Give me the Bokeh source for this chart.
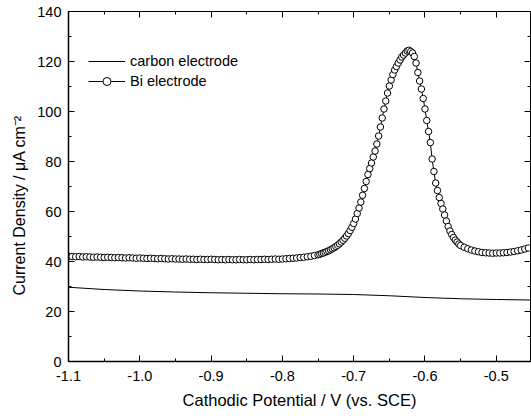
from bokeh.plotting import figure
from bokeh.models import (LinearAxis, SingleIntervalTicker, PrintfTickFormatter,
                          CustomJSTickFormatter, Range1d, Title)
from bokeh.embed import file_html
from bokeh.resources import INLINE

# ---------------- data ----------------
carbon_x = [-1.100, -1.050, -1.000, -0.950, -0.900, -0.850, -0.800, -0.750,
            -0.700, -0.650, -0.600, -0.550, -0.500, -0.452]
carbon_y = [29.7, 28.8, 28.2, 27.8, 27.5, 27.3, 27.1, 27.0,
            26.8, 26.3, 25.6, 25.1, 24.8, 24.6]

bi_x_left = [
    -1.100, -1.095, -1.090, -1.085, -1.080, -1.075, -1.070, -1.065, -1.060, -1.055,
    -1.050, -1.045, -1.040, -1.035, -1.030, -1.025, -1.020, -1.015, -1.010, -1.005,
    -1.000, -0.995, -0.990, -0.985, -0.980, -0.975, -0.970, -0.965, -0.960, -0.955,
    -0.950, -0.945, -0.940, -0.935, -0.930, -0.925, -0.920, -0.915, -0.910, -0.905,
    -0.900, -0.895, -0.890, -0.885, -0.880, -0.875, -0.870, -0.865, -0.860, -0.855,
    -0.850, -0.845, -0.840, -0.835, -0.830, -0.825, -0.820, -0.815, -0.810, -0.805,
    -0.800, -0.795, -0.790, -0.785, -0.780, -0.775, -0.770, -0.765, -0.760, -0.755]
bi_y_left = [
    42.1, 42.0, 41.9, 42.0, 41.8, 41.9, 41.8, 41.7, 41.8, 41.7,
    41.6, 41.7, 41.6, 41.5, 41.6, 41.5, 41.4, 41.5, 41.4, 41.3,
    41.4, 41.3, 41.2, 41.3, 41.2, 41.1, 41.2, 41.1, 41.0, 41.1,
    41.0, 41.0, 40.9, 41.0, 40.9, 40.9, 40.8, 40.9, 40.8, 40.8,
    40.9, 40.8, 40.7, 40.8, 40.7, 40.8, 40.7, 40.7, 40.8, 40.7,
    40.7, 40.8, 40.7, 40.8, 40.8, 40.9, 40.8, 40.9, 41.0, 40.9,
    41.0, 41.1, 41.2, 41.3, 41.4, 41.6, 41.7, 41.9, 42.1, 42.4]

bi_x_peak = [
    -0.7500, -0.7475, -0.7450, -0.7425, -0.7400, -0.7375, -0.7350, -0.7325, -0.7300, -0.7275,
    -0.7250, -0.7225, -0.7200, -0.7175, -0.7150, -0.7125, -0.7100, -0.7075, -0.7050, -0.7025,
    -0.7000, -0.6975, -0.6950, -0.6925, -0.6900, -0.6875, -0.6850, -0.6825, -0.6800, -0.6775,
    -0.6750, -0.6725, -0.6700, -0.6675, -0.6650, -0.6625, -0.6600, -0.6575, -0.6550, -0.6525,
    -0.6500, -0.6475, -0.6450, -0.6425, -0.6400, -0.6375, -0.6350, -0.6325, -0.6300, -0.6275,
    -0.6250, -0.6225, -0.6200, -0.6175, -0.6150, -0.6125, -0.6100, -0.6075, -0.6050, -0.6025,
    -0.6000, -0.5975, -0.5950, -0.5925, -0.5900, -0.5875, -0.5850, -0.5825, -0.5800, -0.5775,
    -0.5750, -0.5725, -0.5700, -0.5675, -0.5650, -0.5625, -0.5600, -0.5575, -0.5550, -0.5525]
bi_y_peak = [
    42.7, 42.9, 43.2, 43.4, 43.7, 44.0, 44.3, 44.7, 45.1, 45.5,
    46.0, 46.5, 47.1, 47.8, 48.5, 49.3, 50.2, 51.2, 52.4, 53.7,
    55.2, 57.0, 59.2, 61.4, 63.8, 66.5, 69.2, 72.0, 74.8, 77.2,
    79.4, 81.8, 84.2, 87.0, 90.2, 93.8, 97.4, 101.0, 104.2, 107.4,
    110.2, 112.6, 114.8, 116.6, 118.0, 119.4, 120.6, 121.8, 122.6, 123.4,
    124.2, 124.5, 124.0, 123.4, 122.0, 119.4, 115.6, 112.2, 109.0, 105.2,
    101.0, 96.4, 92.0, 87.6, 81.0, 76.0, 71.4, 68.4, 65.6, 63.2,
    61.0, 58.6, 56.2, 54.0, 52.2, 50.8, 49.6, 48.6, 47.8, 47.0]

bi_x_right = [
    -0.550, -0.545, -0.540, -0.535, -0.530, -0.525, -0.520, -0.515, -0.510, -0.505,
    -0.500, -0.495, -0.490, -0.485, -0.480, -0.475, -0.470, -0.465, -0.460, -0.455]
bi_y_right = [
    46.4, 45.7, 45.1, 44.6, 44.2, 43.9, 43.6, 43.5, 43.4, 43.3,
    43.4, 43.4, 43.5, 43.6, 43.8, 44.0, 44.3, 44.6, 45.0, 45.4]

bi_x = bi_x_left + bi_x_peak + bi_x_right
bi_y = bi_y_left + bi_y_peak + bi_y_right

x_title = "Cathodic Potential / V (vs. SCE)"
y_title = "Current Density / \u03bcA cm\u207b\u00b2"
carbon_label = "carbon electrode"
bi_label = "Bi electrode"

# ---------------- figure ----------------
FONT = "Liberation Sans"

p = figure(width=531, height=416, output_backend="svg", toolbar_location=None,
           x_range=Range1d(-1.1, -0.452), y_range=Range1d(0, 140),
           min_border_left=68, min_border_right=1, min_border_top=11,
           min_border_bottom=55, x_axis_label=x_title)
p.background_fill_color = "white"
p.border_fill_color = "white"
p.outline_line_color = "black"
p.outline_line_width = 1
p.xgrid.visible = False
p.ygrid.visible = False

p.xaxis.ticker = SingleIntervalTicker(interval=0.1, num_minor_ticks=2)
p.yaxis.ticker = SingleIntervalTicker(interval=20, num_minor_ticks=2)
p.xaxis.formatter = PrintfTickFormatter(format="%.1f")
p.yaxis.formatter = PrintfTickFormatter(format="%d")

for ax in (p.xaxis[0], p.yaxis[0]):
    ax.axis_line_color = "black"
    ax.axis_line_width = 1.5
    ax.major_tick_in = 6
    ax.major_tick_out = 0
    ax.minor_tick_in = 3
    ax.minor_tick_out = 0
    ax.major_tick_line_color = "black"
    ax.minor_tick_line_color = "black"
    ax.major_label_text_font = FONT
    ax.major_label_text_font_size = "14.5px"
    ax.major_label_text_color = "black"
    ax.axis_label_text_font = FONT
    ax.axis_label_text_font_size = "16.5px"
    ax.axis_label_text_font_style = "normal"
    ax.axis_label_text_color = "black"

p.xaxis.major_label_standoff = 9
p.yaxis.major_label_standoff = 7
p.xaxis.axis_label_standoff = 7

blank = CustomJSTickFormatter(code="return ''")
top = LinearAxis(ticker=SingleIntervalTicker(interval=0.1, num_minor_ticks=2),
                 formatter=blank)
right = LinearAxis(ticker=SingleIntervalTicker(interval=20, num_minor_ticks=2),
                   formatter=blank)
for ax in (top, right):
    ax.major_label_standoff = 0
    ax.axis_line_color = "black"
    ax.axis_line_width = 1
    ax.major_tick_in = 6
    ax.major_tick_out = 0
    ax.minor_tick_in = 3
    ax.minor_tick_out = 0
p.add_layout(top, "above")
p.add_layout(right, "right")

# y-axis title as a side title (starting lower, as in the reference)
ytitle = Title(text=y_title, align="left", offset=66, standoff=14,
               text_font=FONT, text_font_size="16px", text_font_style="normal",
               text_color="black")
p.add_layout(ytitle, "left")

# ---------------- glyphs ----------------
p.line(carbon_x, carbon_y, line_color="black", line_width=1, legend_label=carbon_label)
p.line(bi_x, bi_y, line_color="black", line_width=1, legend_label=bi_label)
p.scatter(bi_x, bi_y, marker="circle", size=6.5, fill_color="white",
          line_color="black", line_width=1, legend_label=bi_label)

leg = p.legend[0]
leg.location = (20, 270)
leg.border_line_alpha = 0
leg.background_fill_alpha = 0
leg.padding = 0
leg.margin = 0
leg.spacing = 0
leg.glyph_width = 37
leg.glyph_height = 20
leg.label_height = 20
leg.label_standoff = 5
leg.label_text_font = FONT
leg.label_text_font_size = "14.5px"
leg.label_text_color = "black"

open("out.html", "w").write(file_html(p, INLINE))
